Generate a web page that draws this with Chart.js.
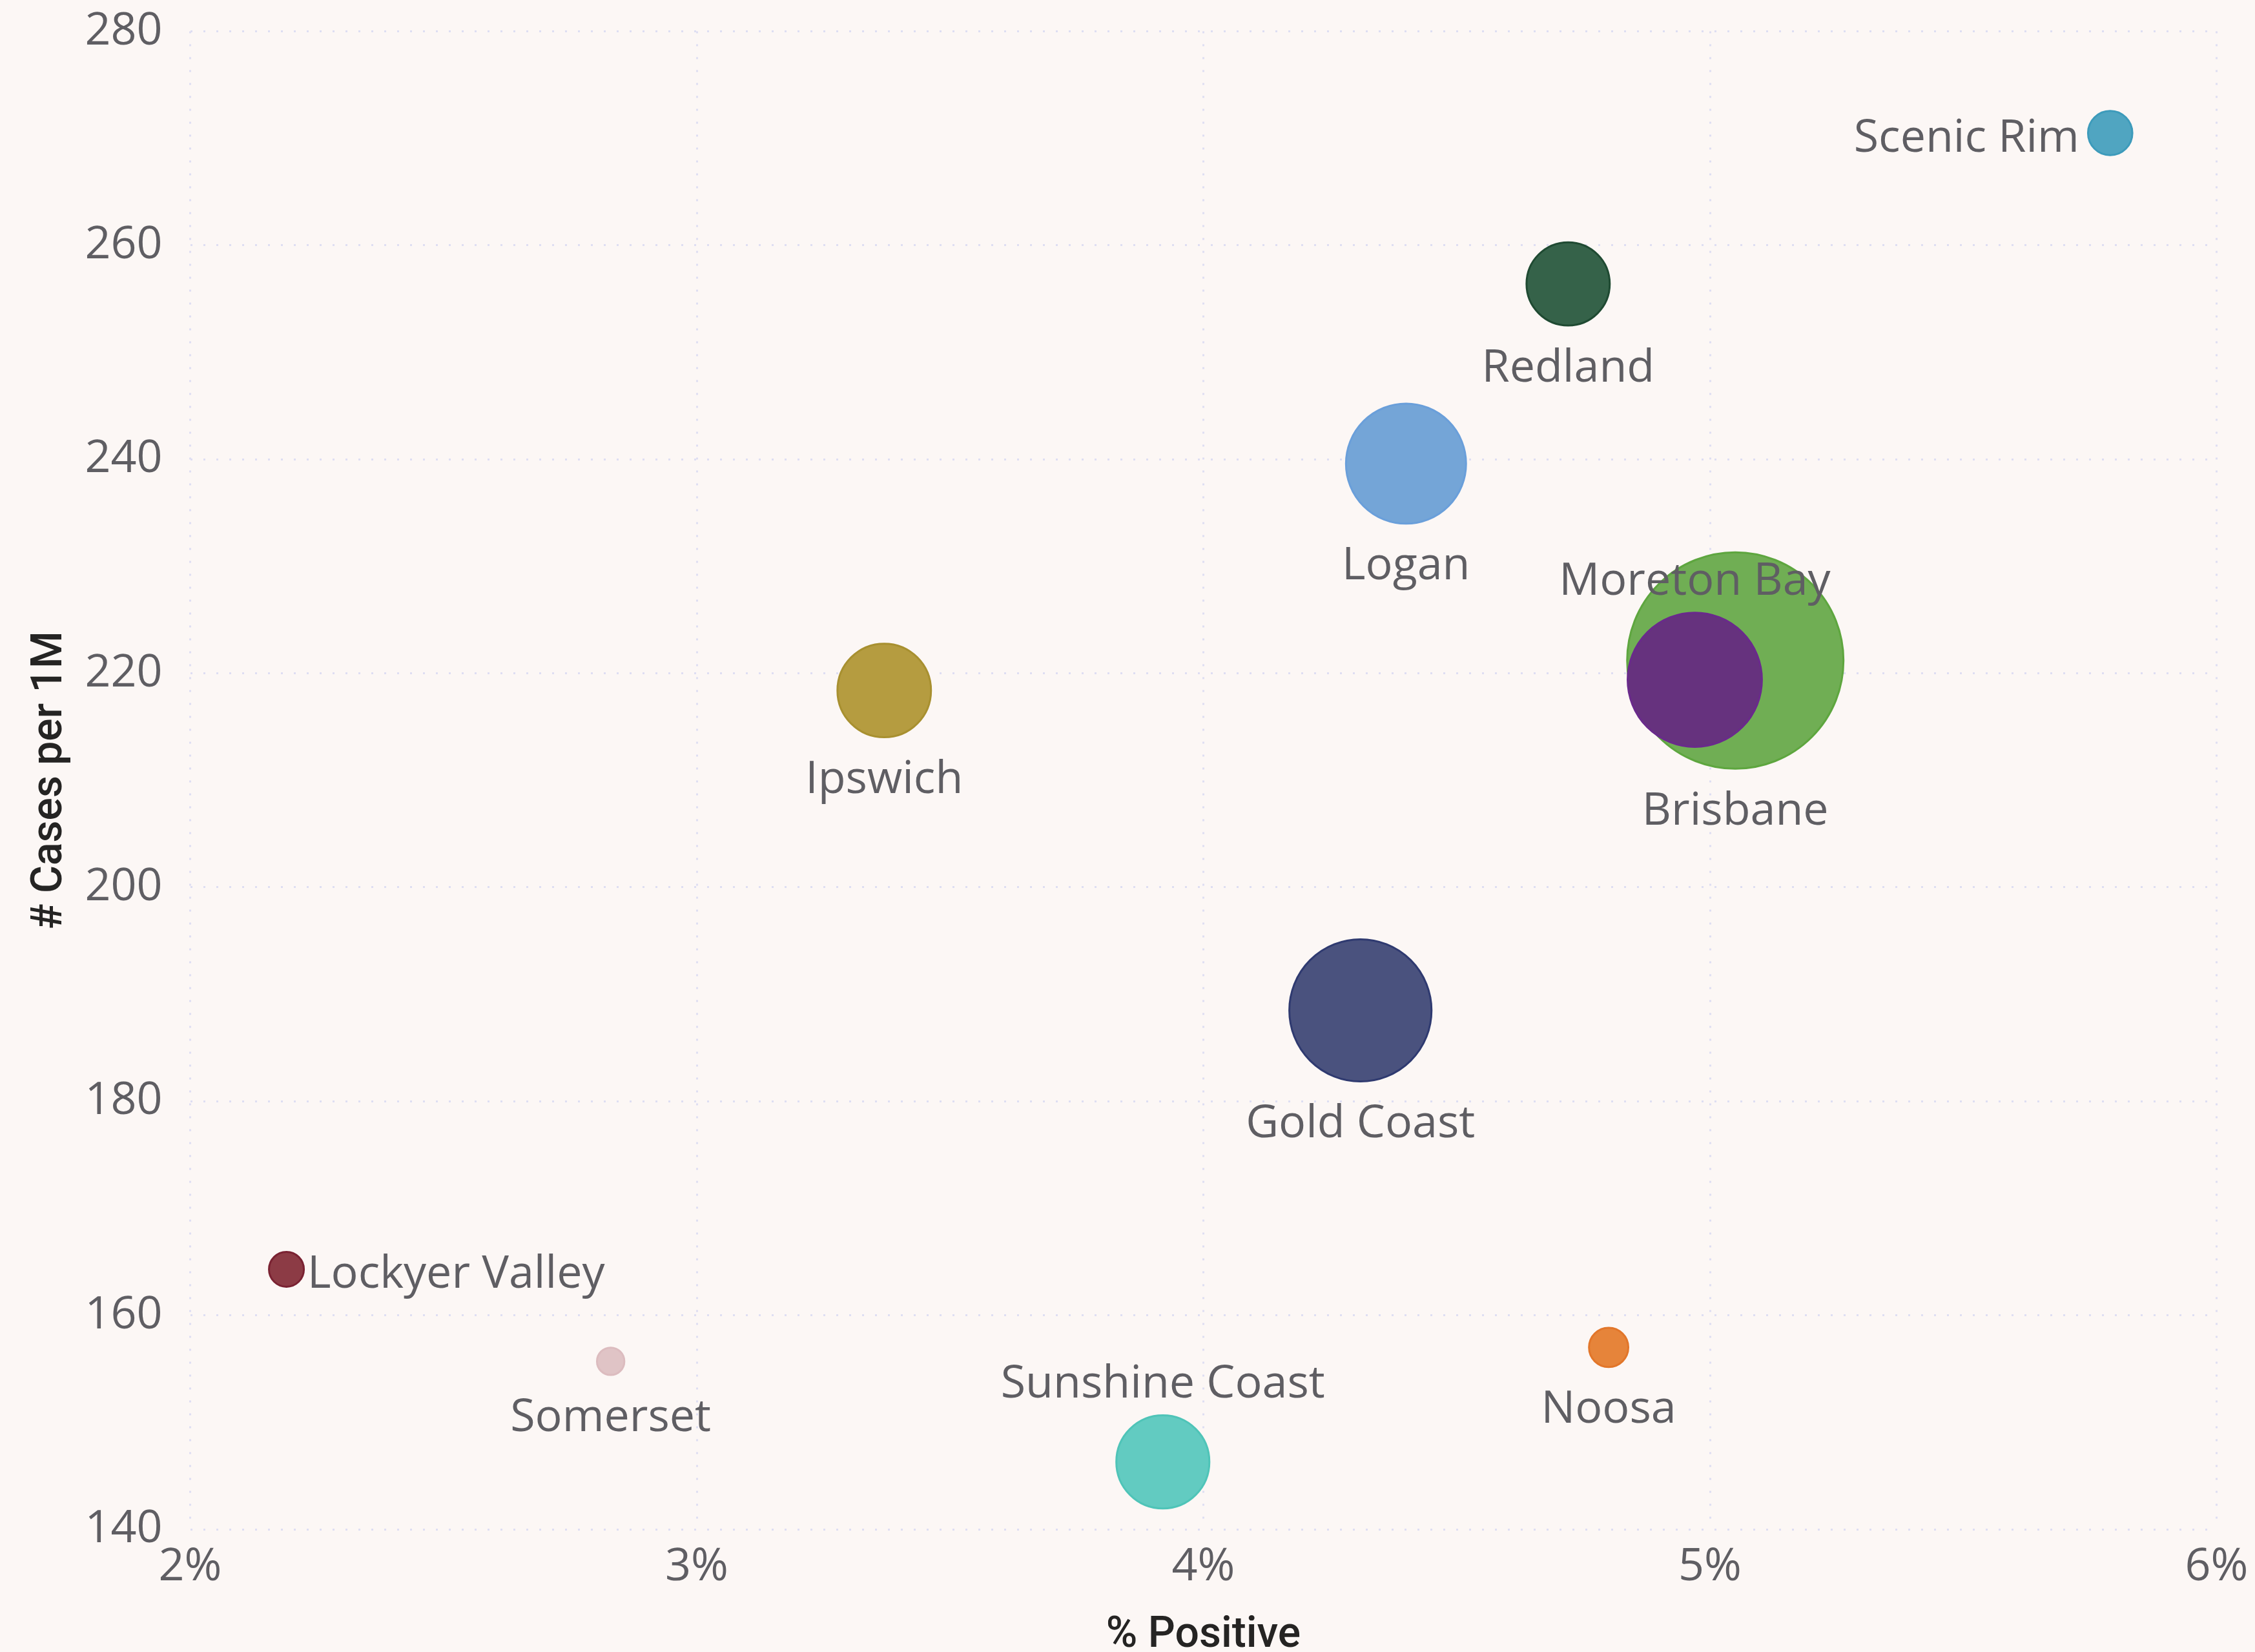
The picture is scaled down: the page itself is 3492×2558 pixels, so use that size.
<!DOCTYPE html>
<html>
<head>
<meta charset="utf-8">
<title>% Positive vs # Cases per 1M</title>
<script src="https://cdn.jsdelivr.net/npm/chart.js@4.4.1/dist/chart.umd.min.js"></script>
<style>
  html, body { margin: 0; padding: 0; background: #fcf7f5; }
  canvas { display: block; }
</style>
</head>
<body>
<canvas id="bubbleChart" width="3492" height="2558"></canvas>
<script>
// council areas, biggest first so the small bubbles sit on top
const regions = ['Brisbane', 'Moreton Bay', 'Gold Coast', 'Logan', 'Sunshine Coast', 'Ipswich',
  'Redland', 'Noosa', 'Scenic Rim', 'Lockyer Valley', 'Somerset'];
const pctPositive = [5.05, 4.97, 4.31, 4.40, 3.92, 3.37, 4.72, 4.80, 5.79, 2.19, 2.83];
const casesPer1M = [221.2, 219.4, 188.5, 239.6, 146.3, 218.4, 256.4, 157.0, 270.5, 164.3, 155.7];
const bubbleSize = [100, 38.5, 43.2, 30.8, 18.5, 18.7, 14.8, 3.3, 4.2, 2.6, 1.6];

const xTicks = [2, 3, 4, 5, 6];
const yTicks = [140, 160, 180, 200, 220, 240, 260, 280];

// colours and where each label goes
const fillColors = ['#70ae54', '#66327e', '#4a527e', '#74a5d7', '#62cbc1', '#b59c40',
  '#356249', '#e6843a', '#50a5c1', '#8c3b45', '#e0c4c6'];
const edgeColors = ['#5ea63f', '#6a2a8c', '#2f3a70', '#6a9fda', '#4fc4b8', '#a89030',
  '#1f4a32', '#e2762a', '#3d9bbb', '#7a2232', '#dcbcbf'];
const labelSide = ['below', 'above', 'below', 'below', 'above', 'below',
  'below', 'below', 'left', 'right', 'below'];

const BG = '#fcf7f5';
const tickColor = '#5f5e63';
const gridColor = '#dedef2';

Chart.defaults.font.family = '"Open Sans", "Noto Sans", sans-serif';

const paintBackground = {
  id: 'paintBackground',
  beforeDraw(chart) {
    const c = chart.ctx;
    c.save();
    c.fillStyle = BG;
    c.fillRect(0, 0, chart.width, chart.height);
    c.restore();
  }
};

// region names next to the bubbles
const bubbleLabels = {
  id: 'bubbleLabels',
  afterDatasetsDraw(chart) {
    const c = chart.ctx;
    const meta = chart.getDatasetMeta(0);
    c.save();
    c.font = '70px "Open Sans", "Noto Sans", sans-serif';
    c.fillStyle = tickColor;
    c.textBaseline = 'alphabetic';
    meta.data.forEach((pt, i) => {
      const R = pt.options.radius + pt.options.borderWidth / 2;
      let x = pt.x, y = pt.y;
      const side = labelSide[i];
      if (side === 'below') { c.textAlign = 'center'; y += R + 85; }
      else if (side === 'above') { c.textAlign = 'center'; y -= R + 26; }
      else if (side === 'left') { c.textAlign = 'right'; x -= R + 12; y += 29; }
      else { c.textAlign = 'left'; x += R + 4; y += 29; }
      c.fillText(regions[i], x, y);
    });
    c.restore();
  }
};

const titleStyle = (text) => ({
  display: true,
  text: text,
  color: '#252423',
  font: { family: 'Roboto', size: 66, weight: 500, lineHeight: 0.72 },
  padding: { top: 54.7, bottom: 1 }
});

const ctx = document.getElementById('bubbleChart').getContext('2d');
const chart = new Chart(ctx, {
  type: 'bubble',
  data: {
    datasets: [{
      label: '# Cases per 1M',
      data: regions.map((name, i) => ({
        x: pctPositive[i],
        y: casesPer1M[i],
        r: Math.sqrt(bubbleSize[i]) * 16.75
      })),
      backgroundColor: fillColors,
      borderColor: edgeColors,
      borderWidth: 3
    }]
  },
  options: {
    responsive: false,
    devicePixelRatio: 1,
    animation: false,
    layout: { autoPadding: false, padding: { top: 48.6, right: 59.5, left: 0, bottom: 0 } },
    plugins: {
      legend: { display: false },
      tooltip: { enabled: false }
    },
    scales: {
      x: {
        type: 'linear',
        min: xTicks[0],
        max: xTicks[xTicks.length - 1],
        afterBuildTicks: s => { s.ticks = xTicks.map(v => ({ value: v })); },
        afterFit: s => { s.height = 190; s.paddingLeft = 0; s.paddingRight = 0; },
        ticks: { padding: 17, color: tickColor, font: { size: 70 }, callback: v => v + '%' },
        grid: { color: gridColor, lineWidth: 3, drawTicks: false },
        border: { display: false, dash: [3, 17] },
        title: titleStyle('% Positive')
      },
      y: {
        type: 'linear',
        min: yTicks[0],
        max: yTicks[yTicks.length - 1],
        afterBuildTicks: s => { s.ticks = yTicks.map(v => ({ value: v })); },
        afterFit: s => { s.width = 294.5; s.paddingTop = 0; s.paddingBottom = 0; },
        ticks: { padding: 43, color: tickColor, font: { size: 70 } },
        grid: { color: gridColor, lineWidth: 3, drawTicks: false },
        border: { display: false, dash: [3, 17] },
        title: titleStyle('# Cases per 1M')
      }
    }
  },
  plugins: [paintBackground, bubbleLabels]
});
</script>
</body>
</html>
